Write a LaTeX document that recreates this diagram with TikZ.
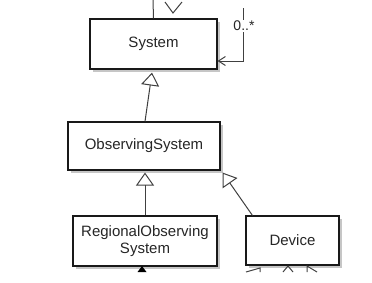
\documentclass[tikz,border=0pt]{standalone}
\usepackage{fontspec}
\setmainfont{Liberation Sans}
\usetikzlibrary{arrows.meta,shadows}

\tikzset{
  cls/.style={draw=black!90, fill=white, line width=1.1pt, minimum width=#1,
    minimum height=49pt, inner sep=0pt, align=center, text=black!85,
    font=\fontsize{15}{17}\selectfont,
    drop shadow={shadow xshift=2.5pt, shadow yshift=-2.5pt, opacity=0.45}},
  gen/.style={draw=black!75, line width=1pt,
    -{Triangle[open, width=18pt, length=13pt, line width=1pt]}},
  assoc/.style={draw=black!75, line width=1pt,
    -{Straight Barb[length=7pt, width=9pt, line width=1pt]}},
}

\begin{document}
\begin{tikzpicture}[x=1pt, y=-1pt]

  \useasboundingbox (0,0) rectangle (372,282);

  % Classes
  \node[cls=127pt, minimum height=50pt] (sys) at (153.5,44) {System};
  \node[cls=152pt, minimum height=48pt] (obs) at (144,146) {ObservingSystem};
  \node[cls=144pt, minimum height=50pt] (ros) at (145,241) {RegionalObserving\\System};
  \node[cls=93pt] (dev) at (292.5,240.5) {Device};

  % Generalisations
  \draw[gen] ([xshift=1pt]obs.north) -- ([xshift=-1.5pt,yshift=-3pt]sys.south);
  \draw[gen] (ros.north) -- ([yshift=-2pt]ros.north |- obs.south);
  \draw[gen] ([xshift=7pt]dev.north west) -- ([xshift=2pt,yshift=-2pt]obs.south east);

  % Self association on System
  \coordinate (lptop) at (243,8);
  \coordinate (lpbend) at (243,61);
  \draw[assoc] (lptop) -- (lpbend) -- (sys.east |- lpbend);
  \node[fill=white, inner sep=1.5pt, text=black!85, font=\fontsize{14}{16}\selectfont]
    (mult) at (244,26) {0..*};

  % Links leaving the top
  \coordinate (up) at (153,0);
  \draw[black!75, line width=1pt] (sys.north) -- (up);
  \draw[black!75, line width=1pt] (165,2) -- (173,13) -- (182,2);

  % Links leaving the bottom
  \fill[black] (142,266) -- (137.5,272) -- (146.5,272) -- cycle;
  \draw[black!75, line width=1pt] (246,272) -- (260,268) -- (260,272);
  \draw[black!75, line width=1pt] (283,272) -- (288,266) -- (293,272);
  \draw[black!75, line width=1pt] (307,272) -- (307,266) -- (317,272);

\end{tikzpicture}
\end{document}
